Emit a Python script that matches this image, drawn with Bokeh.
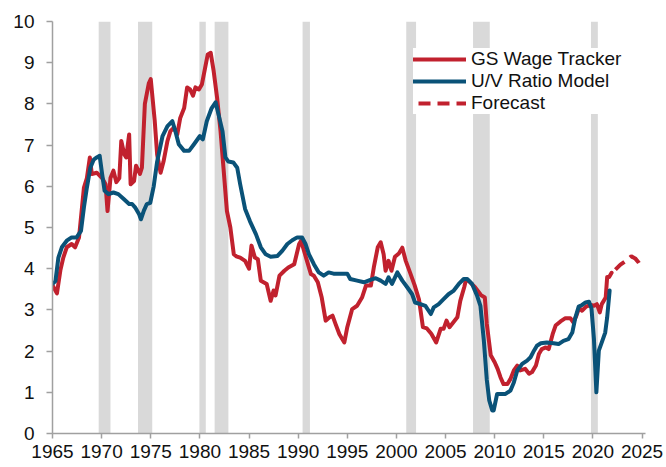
from bokeh.plotting import figure
from bokeh.models import Range1d, FixedTicker, Legend, LegendItem
from bokeh.embed import file_html
from bokeh.resources import INLINE

# ---- data ----
wage_years = [1965.0, 1965.45, 1965.8, 1966.1, 1966.45, 1966.95, 1967.3, 1967.7, 1968.2, 1968.5,
              1968.8, 1969.0, 1969.5, 1970.05, 1970.4, 1970.6, 1970.9, 1971.2, 1971.5, 1971.8,
              1972.0, 1972.3, 1972.5, 1972.8, 1972.95, 1973.3, 1973.5, 1973.9, 1974.1, 1974.4,
              1974.8, 1975.0, 1975.4, 1975.65, 1976.0, 1976.3, 1976.7, 1977.0, 1977.35, 1977.7,
              1978.0, 1978.4, 1978.7, 1979.0, 1979.3, 1979.55, 1979.9, 1980.2, 1980.6, 1980.8,
              1981.1, 1981.4, 1981.75, 1982.1, 1982.4, 1982.75, 1983.1, 1983.45, 1983.7, 1984.1,
              1984.6, 1985.0, 1985.25, 1985.6, 1985.9, 1986.2, 1986.8, 1987.2, 1987.5, 1987.7,
              1988.1, 1988.6, 1989.0, 1989.6, 1990.1, 1990.3, 1990.8, 1991.3, 1991.6, 1992.0,
              1992.4, 1992.8, 1993.2, 1993.5, 1993.8, 1994.2, 1994.7, 1995.0, 1995.5, 1996.0,
              1996.5, 1996.9, 1997.4, 1997.7, 1998.1, 1998.4, 1998.7, 1998.9, 1999.2, 1999.5,
              1999.85, 2000.25, 2000.6, 2000.95, 2001.4, 2001.85, 2002.3, 2002.7, 2003.1, 2003.55,
              2004.05, 2004.5, 2004.8, 2005.1, 2005.4, 2005.8, 2006.2, 2006.5, 2006.9, 2007.1,
              2007.5, 2008.0, 2008.6, 2009.0, 2009.2, 2009.6, 2010.0, 2010.3, 2010.6, 2010.9,
              2011.3, 2011.6, 2011.95, 2012.3, 2012.6, 2013.1, 2013.5, 2013.8, 2014.2, 2014.5,
              2014.8, 2015.2, 2015.5, 2015.9, 2016.2, 2016.7, 2017.2, 2017.7, 2018.0, 2018.3,
              2018.6, 2018.9, 2019.3, 2019.8, 2020.1, 2020.4, 2020.7, 2020.9, 2021.3, 2021.45,
              2021.65, 2021.9]
wage_values = [3.6, 3.4, 3.96, 4.27, 4.52, 4.6, 4.52, 4.76, 5.97, 6.2,
               6.7, 6.3, 6.33, 6.2, 6.05, 5.4, 6.2, 6.38, 6.1, 6.2,
               7.1, 6.78, 6.7, 7.26, 6.05, 6.13, 6.5, 6.3, 6.45, 8.0,
               8.5, 8.6, 7.6, 6.77, 6.33, 6.6, 7.1, 7.34, 7.42, 7.26,
               7.66, 7.9, 8.4, 8.35, 8.2, 8.4, 8.35, 8.47, 8.96, 9.2,
               9.24, 8.8, 8.15, 7.34, 6.45, 5.4, 5.0, 4.35, 4.3, 4.27,
               4.19, 4.0, 4.56, 4.27, 4.23, 3.71, 3.63, 3.22, 3.47, 3.35,
               3.83, 3.95, 4.03, 4.11, 4.6, 4.68, 4.27, 3.87, 3.83, 3.67,
               3.3, 2.74, 2.82, 2.86, 2.66, 2.41, 2.21, 2.58, 3.02, 3.1,
               3.3, 3.59, 3.59, 4.03, 4.52, 4.64, 4.35, 3.95, 4.19, 3.95,
               4.29, 4.37, 4.51, 4.19, 3.9, 3.6, 3.25, 2.58, 2.55, 2.42,
               2.21, 2.54, 2.54, 2.74, 2.58, 2.7, 2.82, 3.22, 3.55, 3.75,
               3.67, 3.55, 3.36, 3.3, 2.66, 1.9, 1.73, 1.57, 1.36, 1.2,
               1.2, 1.32, 1.53, 1.65, 1.53, 1.57, 1.45, 1.49, 1.65, 1.93,
               2.05, 2.09, 2.05, 2.41, 2.62, 2.72, 2.8, 2.8, 2.7, 2.85,
               3.05, 2.98, 3.08, 3.12, 3.1, 3.14, 2.94, 3.14, 3.3, 3.8,
               3.8, 3.9]

forecast_years = [2021.9, 2022.25, 2022.8, 2023.4, 2023.9, 2024.3, 2024.65, 2025.0]
forecast_values = [3.9, 3.97, 4.1, 4.2, 4.3, 4.25, 4.15, 4.0]

uv_years = [1965.0, 1965.3, 1965.6, 1965.95, 1966.45, 1966.95, 1967.45, 1967.9, 1968.2, 1968.5,
            1968.85, 1969.2, 1969.5, 1969.8, 1970.05, 1970.3, 1970.7, 1971.2, 1971.7, 1972.25,
            1972.8, 1973.1, 1973.4, 1973.8, 1974.0, 1974.3, 1974.6, 1974.95, 1975.3, 1975.65,
            1976.2, 1976.7, 1977.2, 1977.5, 1977.85, 1978.4, 1978.9, 1979.4, 1980.0, 1980.3,
            1980.7, 1981.2, 1981.6, 1981.9, 1982.3, 1982.6, 1982.9, 1983.4, 1983.8, 1984.1,
            1984.6, 1985.1, 1985.7, 1986.2, 1986.7, 1987.2, 1987.9, 1988.4, 1988.9, 1989.4,
            1989.9, 1990.4, 1990.75, 1991.1, 1991.6, 1992.1, 1992.6, 1993.1, 1993.6, 1994.3,
            1995.0, 1995.3, 1996.0, 1996.7, 1997.35, 1997.9, 1998.4, 1998.9, 1999.2, 1999.55,
            2000.1, 2000.6, 2001.1, 2001.6, 2001.9, 2002.45, 2002.95, 2003.5, 2003.8, 2004.3,
            2004.8, 2005.3, 2005.8, 2006.35, 2006.85, 2007.2, 2007.7, 2008.2, 2008.55, 2008.9,
            2009.2, 2009.45, 2009.75, 2009.9, 2010.25, 2010.6, 2011.1, 2011.6, 2011.95, 2012.3,
            2012.8, 2013.3, 2013.65, 2014.0, 2014.3, 2014.7, 2015.3, 2016.0, 2016.5, 2017.0,
            2017.5, 2017.9, 2018.2, 2018.55, 2018.9, 2019.25, 2019.6, 2019.85, 2020.1, 2020.35,
            2020.6, 2020.9, 2021.25, 2021.45, 2021.7]
uv_values = [3.63, 3.7, 4.27, 4.52, 4.68, 4.76, 4.76, 4.92, 5.49, 5.97,
             6.45, 6.65, 6.7, 6.74, 6.3, 5.89, 5.81, 5.85, 5.81, 5.69,
             5.57, 5.57, 5.49, 5.33, 5.2, 5.41, 5.57, 5.6, 6.0, 6.6,
             7.22, 7.46, 7.58, 7.34, 7.02, 6.86, 6.86, 7.02, 7.22, 7.14,
             7.58, 7.9, 8.04, 7.74, 7.34, 6.7, 6.6, 6.58, 6.45, 6.05,
             5.45, 5.15, 4.84, 4.52, 4.35, 4.29, 4.31, 4.44, 4.6, 4.69,
             4.76, 4.76, 4.6, 4.35, 4.11, 3.91, 3.83, 3.91, 3.88, 3.88,
             3.88, 3.75, 3.71, 3.67, 3.73, 3.77, 3.71, 3.63, 3.79, 3.63,
             3.91, 3.71, 3.55, 3.38, 3.18, 3.14, 3.1, 2.9, 3.06, 3.14,
             3.26, 3.38, 3.46, 3.63, 3.75, 3.75, 3.63, 3.35, 3.1, 2.25,
             1.3, 0.8, 0.56, 0.56, 0.96, 0.96, 0.96, 1.04, 1.24, 1.53,
             1.69, 1.77, 1.85, 2.01, 2.13, 2.19, 2.21, 2.19, 2.17, 2.25,
             2.29, 2.45, 2.8, 3.08, 3.12, 3.18, 3.2, 3.04, 2.3, 1.0,
             2.01, 2.21, 2.45, 2.82, 3.47]

recession_start = [1969.7, 1973.7, 1979.95, 1981.5, 1990.45, 2001.0, 2007.8, 2019.8]
recession_end = [1970.9, 1975.15, 1980.6, 1982.9, 1991.2, 2002.0, 2009.5, 2020.5]

y_ticks = list(range(0, 11))
x_ticks = list(range(1965, 2030, 5))

series_names = ["GS Wage Tracker", "U/V Ratio Model", "Forecast"]

RED = "#C1212E"
BLUE = "#0A5278"
BAND = "#D9D9D9"
FONT = "Liberation Sans"

p = figure(width=663, height=466, output_backend="svg", toolbar_location=None,
           x_range=Range1d(1965, 2025.35), y_range=Range1d(0, 10),
           min_border_left=52, min_border_right=18, min_border_top=21, min_border_bottom=33)
p.outline_line_color = None
p.xgrid.visible = False
p.ygrid.visible = False
p.background_fill_color = "white"
p.border_fill_color = "white"

p.quad(left=recession_start, right=recession_end, bottom=0, top=10,
       fill_color=BAND, line_color=None)

r_wage = p.line(wage_years, wage_values, line_color=RED, line_width=4,
                line_join="round", line_cap="round")
r_uv = p.line(uv_years, uv_values, line_color=BLUE, line_width=4,
              line_join="round", line_cap="round")
r_fc = p.line(forecast_years, forecast_values, line_color=RED, line_width=4,
              line_dash="12 7", line_dash_offset=14)

legend = Legend(items=[LegendItem(label=series_names[0], renderers=[r_wage]),
                       LegendItem(label=series_names[1], renderers=[r_uv]),
                       LegendItem(label=series_names[2], renderers=[r_fc])],
                location=(361, 319), padding=5, margin=0, spacing=0,
                glyph_width=53, glyph_height=22, label_height=22, label_standoff=5,
                label_text_font=FONT, label_text_font_size="19px", label_text_color="#111111",
                background_fill_color="white", background_fill_alpha=1.0,
                border_line_color=None)
p.add_layout(legend)

for ax in (p.xaxis[0], p.yaxis[0]):
    ax.axis_line_color = "#A0A0A0"
    ax.axis_line_width = 1.5
    ax.major_tick_line_color = "#A0A0A0"
    ax.major_tick_line_width = 1.5
    ax.major_tick_in = 0
    ax.minor_tick_line_color = None
    ax.major_label_text_font = FONT
    ax.major_label_text_font_size = "19px"
    ax.major_label_text_color = "#111111"

p.yaxis[0].ticker = FixedTicker(ticks=y_ticks)
p.yaxis[0].major_tick_out = 6
p.yaxis[0].major_label_standoff = 12
p.xaxis[0].ticker = FixedTicker(ticks=x_ticks)
p.xaxis[0].major_tick_out = 5
p.xaxis[0].major_label_standoff = 6

open("out.html", "w").write(file_html(p, INLINE))
